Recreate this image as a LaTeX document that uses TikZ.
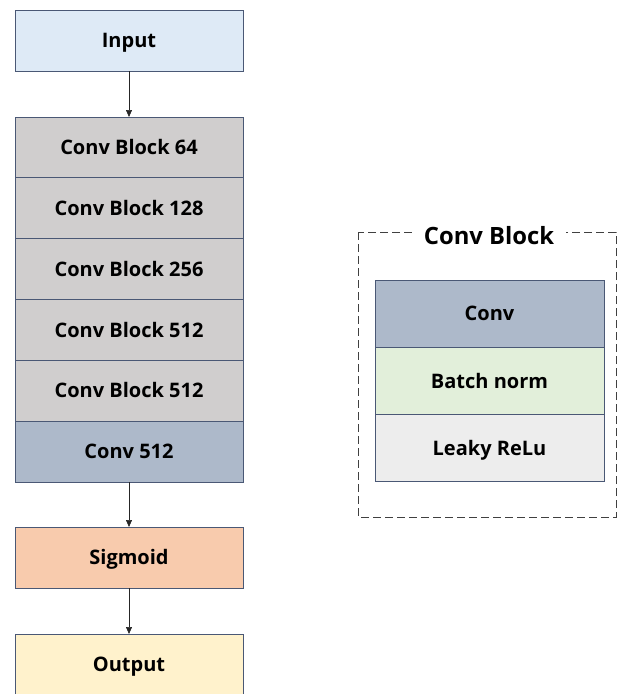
\documentclass[tikz,border=0pt]{standalone}
\usepackage{fontspec}
\setmainfont{Open Sans}
\usepackage{xcolor}
\usepackage{tikz}
\usetikzlibrary{positioning, arrows.meta}

\definecolor{edgeblue}{HTML}{4A5875}
\definecolor{inputblue}{HTML}{DEEAF6}
\definecolor{blockgray}{HTML}{D0CECE}
\definecolor{convblue}{HTML}{ADB9CA}
\definecolor{sigorange}{HTML}{F8CBAD}
\definecolor{outyellow}{HTML}{FFF2CC}
\definecolor{normgreen}{HTML}{E2EFDA}
\definecolor{relugray}{HTML}{EDEDED}

\begin{document}
\begin{tikzpicture}[x=1pt, y=-1pt, >={Triangle[length=7pt, width=6pt]},
    layer/.style={draw=edgeblue, line width=1pt, outer sep=0pt, inner sep=0pt,
        minimum width=228pt, minimum height=61pt, anchor=north,
        text height=14.5pt, text depth=0pt,
        font=\bfseries\fontsize{20}{24}\selectfont},
    sublayer/.style={layer, minimum width=229pt, minimum height=67.3pt},
    link/.style={->, line width=0.7pt, black!85}]
    \useasboundingbox (0,0) rectangle (618,694);

    % Cột bên trái
    \node[layer, fill=inputblue] (input) at (129,10) {Input};
    \foreach \n [count=\i] in {64,128,256,512,512} {
        \node[layer, fill=blockgray] (cb\i) at (129,{117+60.8*(\i-1)}) {Conv Block \n};
    }
    \node[layer, fill=convblue, below=0pt of cb5] (conv) {Conv 512};
    \node[layer, fill=sigorange] (sigmoid) at (129,527) {Sigmoid};
    \node[layer, fill=outyellow] (output) at (129,634) {Output};

    % Mũi tên
    \draw[link] (input) -- (cb1);
    \draw[link] (conv) -- (sigmoid);
    \draw[link] (sigmoid) -- (output);

    % Khối Conv Block bên phải
    \draw[dashed, dash pattern=on 8pt off 4pt, line width=0.8pt, black!75]
        (358,232) rectangle (616,517);
    \node[fill=white, inner xsep=12pt, inner ysep=2pt, text height=17pt, text depth=0pt,
        font=\bfseries\fontsize{23.8}{28}\selectfont] (title) at (489,236) {Conv Block};
    \node[sublayer, fill=convblue] (c) at (489.5,280) {Conv};
    \node[sublayer, fill=normgreen, below=0pt of c] (bn) {Batch norm};
    \node[sublayer, fill=relugray, below=0pt of bn] (relu) {Leaky ReLu};
\end{tikzpicture}
\end{document}
